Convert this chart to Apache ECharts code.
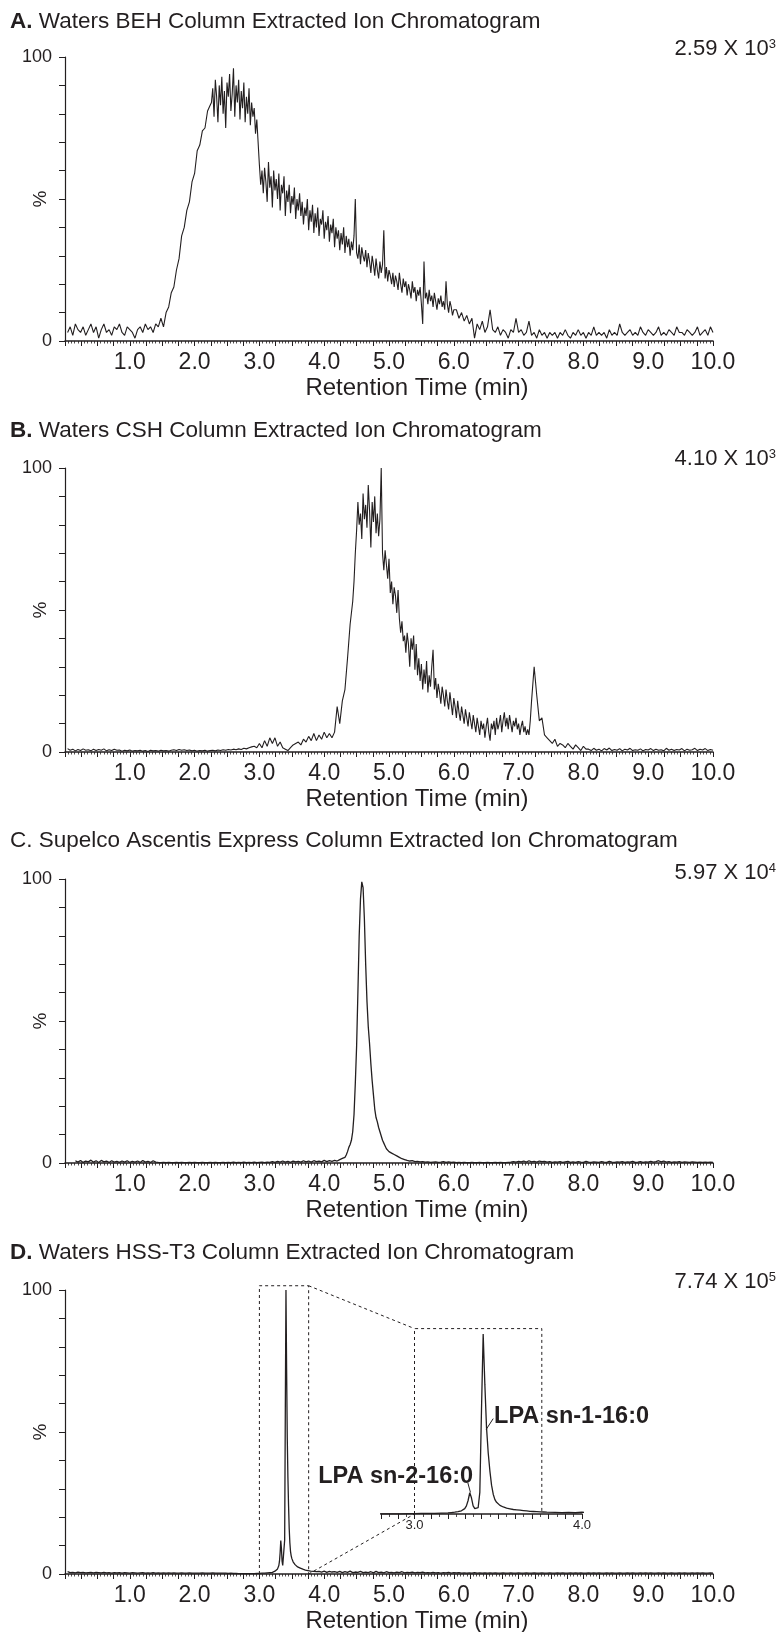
<!DOCTYPE html>
<html>
<head>
<meta charset="utf-8">
<script src="https://cdn.jsdelivr.net/npm/echarts@6/dist/echarts.min.js"></script>
<style>
  html, body { margin: 0; padding: 0; background: #fff; }
  #chart { width: 777px; height: 1632px; }
</style>
</head>
<body>
<div id="chart"></div>
<script>
// ---------------- DATA ----------------
const panelTitles = [
  ['A.', ' Waters BEH Column Extracted Ion Chromatogram', true],
  ['B.', ' Waters CSH Column Extracted Ion Chromatogram', true],
  ['C.', ' Supelco Ascentis Express Column Extracted Ion Chromatogram', false],
  ['D.', ' Waters HSS-T3 Column Extracted Ion Chromatogram', true]
];
const scaleMantissa = ['2.59', '4.10', '5.97', '7.74'];
const scaleExponent = ['3', '3', '4', '5'];
const xTickLabels = ['1.0', '2.0', '3.0', '4.0', '5.0', '6.0', '7.0', '8.0', '9.0', '10.0'];
const yTickLabels = { 0: '0', 100: '100' };
const insetTickLabels = { 3: '3.0', 4: '4.0' };
const xAxisName = 'Retention Time (min)';
const yAxisName = '%';
const peakLabels = ['LPA sn-1-16:0', 'LPA sn-2-16:0'];

// A: Waters BEH (three sampling segments)
const behStart = [0.04, 2.26, 6.04];
const behStep = [0.04, 0.02, 0.04];
const behRise = [
  3,5,2,6,4,3,5,2,4,6, 3,5,1,4,6,3,4,2,5,4, 6,3,2,5,4,3,1,4,5,3, 6,4,5,3,6,
  5,8,5,10,12,17,19,25,29,37, 40,46,49,56,59,67,69,74,75,81, 83
];
const behMain = [
  84,89,79,92,86,77,90,83,93,80,
  88,75,91,86,94,81,87,96,79,90,
  84,92,78,88,82,91,77,86,80,89,
  76,84,79,82,73,78,70,62,55,60,
  52,61,56,49,63,54,58,47,60,53,
  57,50,59,46,55,52,58,44,53,49,
  55,45,51,48,54,43,50,46,52,44,
  49,41,47,44,50,39,46,42,48,38,
  45,40,47,37,43,41,46,36,42,39,
  44,35,41,38,43,33,40,36,39,32,
  38,34,40,31,37,33,36,30,35,32,
  37,50,31,29,34,27,33,30,28,32,
  26,31,28,24,30,27,23,29,25,22,
  28,24,27,39,22,26,21,25,23,20,
  24,19,23,21,18,24,20,17,22,19,
  21,16,20,18,15,21,17,19,14,18,
  16,19,13,6,28,15,17,13,18,14,
  16,12,17,14,11,15,13,16,12,14,
  11,21,13,10,14,12,9,11
];
const behTail = [
  11,8,10,7,9,6,8,1,6,4, 7,3,5,
  11,4,3,5,2,4,3,1,4,3, 8,3,
  4,2,3,7,2,3,1,4,2,3, 1,3,
  2,3,1,3,2,4,2,1,3,2, 4,2,3,1,3,2,5,2,3,2, 3,1,4,2,3,2,6,3,2,3,
  4,2,3,2,5,3,2,4,3,2, 3,5,2,3,2,4,3,2,5,3, 3,2,4,3,2,3,5,2,3,4, 2,5,3
];

// B: Waters CSH (three sampling segments)
const cshStart = [0.04, 4.46, 7.24];
const cshStep = [0.04, 0.02, 0.04];
const cshRise = [
  1.2,0.6,1,0.4,0.9,0.5,1.1,0.6,0.8,0.4, 1,0.5,0.9,0.6,1.1,0.4,0.8,0.5,1,0.6,
  0.7,0.3,0.6,0.4,0.7,0.3,0.5,0.4,0.6,0.3, 0.5,0.2,0.6,0.4,0.5,0.3,0.6,0.4,0.5,0.3,
  0.6,0.8,0.5,0.9,0.6,0.8,0.5,0.7,0.4,0.6, 0.3,0.5,0.4,0.6,0.3,0.5,0.6,0.4,0.7,0.5,
  0.8,0.6,0.9,0.7,1,0.8,1.1,0.9,1.3,1.1, 1.5,1.8,
  2,1.5,3,1.5,4,2,5,3,5,2, 3.5,1.5,1,0.5,1.5,
  2.5,3,3.5,2.5,4.5,3.5,5.5,4,6.5,4, 6,4.5,7,5,6.5,5,7,
  16,10,18,22,33,45,53
];
const cshMain = [
  60,70,78,88,80,84,75,91,82,87,
  79,94,85,72,88,81,90,77,84,76,
  82,100,70,64,71,66,61,68,56,60,
  52,58,55,49,57,47,42,46,39,41,
  35,42,38,30,40,36,41,29,38,27,
  33,25,31,22,29,24,32,21,27,23,
  30,36,22,26,19,24,21,17,23,20,
  16,22,18,15,21,17,13,19,16,12,
  18,14,11,16,13,10,15,12,9,14,
  11,8,13,10,7,12,9,6,11,8,
  10,5,9,12,7,4,10,8,11,6,
  12,8,10,13,7,11,14,9,12,8,
  13,10,7,11,9,12,8,10,6,9,
  11,7,9,6,8,6,11,18
];
const cshTail = [
  30,20,11,12,6,5,
  4,3,4.5,2,3,2.5,1.5,3,2,1, 2.5,1.5,0.5,2,1,
  1,0.5,1.3,0.6,1,0.4,1.2,0.7,1.4,0.5, 0.9,0.6,1.2,0.4,1,0.7,1.3,0.5,0.8,0.6,
  1.1,0.4,0.9,0.7,1.2,0.5,1,0.6,0.8,0.4, 1.3,0.6,1,0.5,0.9,0.7,1.2,0.4,1,0.6,
  0.8,1.3,0.5,1,0.7,1.2,0.5,0.9,0.6
];

// C: Supelco Ascentis Express (three sampling segments)
const ascentisStart = [0.16, 4.30, 5.04];
const ascentisStep = [0.04, 0.02, 0.04];
const ascentisBase1 = [
  0.8,0.3,0.9,0.2,0.7,0.4,1,0.3,0.8,0.2, 0.9,0.4,0.7,0.2,0.8,0.3,0.6,0.2,0.7,0.3,
  0.8,0.2,0.6,0.3,0.7,0.2,0.9,0.3,0.6,0.2, 0.8,0.3,0.2,0.1,0.2,0.1,0.2,0.1,0.1,0.2,
  0.1,0.2,0.1,0.1,0.2,0.1,0.2,0.1,0.1,0.2, 0.1,0.1,0.2,0.1,0.2,0.1,0.1,0.2,0.1,0.2,
  0.1,0.3,0.1,0.2,0.1,0.3,0.1,0.2,0.1,0.3, 0.1,0.2,0.3,0.1,0.3,0.2,0.5,0.2,0.6,0.3,
  0.7,0.3,0.6,0.2,0.7,0.4,0.6,0.3,0.8,0.4, 0.7,0.3,0.8,0.5,0.7,0.4,0.9,0.5,0.8,0.6,
  0.9,0.7,1.2,1.6
];
const ascentisPeak = [
  1.5,2,2.8,4,5.5,6.5, 8,11,17,28,41, 60,80,93,99,97, 86,70,57,48,42,
  35,29,24,19,16, 14.5,12.5,11,9.5,8, 7,6,5,4.5,4
];
const ascentisBase2 = [
  3.5,3,2.5,2,1.5,1.2,0.9,0.7,0.8,0.5, 0.6,0.4,0.5,0.3,0.4,0.2,0.3,0.4,0.2,0.3,
  0.5,0.2,0.4,0.2,0.3,0.1,0.2,0.1,0.2,0.1, 0.1,0.2,0.1,0.1,0.2,0.1,0.1,0.2,0.1,0.1,
  0.2,0.1,0.2,0.1,0.1,0.2,0.3,0.5,0.3,0.6, 0.4,0.7,0.3,0.8,0.4,0.6,0.3,0.7,0.5,0.6,
  0.3,0.5,0.2,0.4,0.3,0.5,0.2,0.4,0.6,0.2, 0.4,0.2,0.5,0.3,0.2,0.6,0.3,0.2,0.4,0.3,
  0.2,0.5,0.3,0.2,0.6,0.3,0.2,0.4,0.3,0.5, 0.2,0.4,0.3,0.6,0.2,0.3,0.5,0.2,0.4,0.3,
  0.6,0.3,0.5,0.8,0.4,0.7,0.3,0.5,0.2,0.4, 0.3,0.5,0.2,0.4,0.3,0.2,0.4,0.3,0.2,0.3,
  0.2,0.3,0.2,0.3,0.2
];

// D: Waters HSS-T3 (three sampling segments)
const hssStart = [0.04, 3.21, 3.84];
const hssStep = [0.04, 0.01, 0.04];
const hssBase1 = [
  0.8,0.5,0.6,0.4,0.7,0.5,0.6,0.4,0.5,0.6, 0.4,0.6,0.5,0.4,0.6,0.4,0.5,0.3,0.5,0.4,
  0.5,0.3,0.5,0.4,0.3,0.5,0.4,0.3,0.4,0.5, 0.3,0.4,0.3,0.5,0.3,0.4,0.3,0.4,0.3,0.4,
  0.3,0.4,0.3,0.3,0.4,0.3,0.3,0.4,0.3,0.3, 0.3,0.3,0.4,0.3,0.3,0.3,0.4,0.3,0.3,0.3,
  0.3,0.3,0.2,0.3,0.2,0.2,0.1,0.1,0.1,0.1, 0.1,0.1,0.1,0.2,0.2,0.3,0.3,0.4,0.5,0.6
];
const hssPeak = [
  0.7,0.8,0.9,1.0,1.1,1.3,1.5,1.8,2.3,3, 4.5,7.5,11.8,9,4.5,3,2.6,3.5,12,58,
  100,72,48,34,24,16,11,8,6.5,5.5, 4.8,4.3,3.9,3.6,3.3,3.1,2.9,2.7,2.5,2.4,
  2.3,2.2,2.1,2.0,1.9,1.8,1.7,1.6,1.5,1.45, 1.4,1.35,1.3,1.25,1.2,1.15,1.1,1.05,1.0,1.0
];
const hssBase2 = [
  0.9,0.8,0.9,0.7,1.0,0.6,0.9,0.7,0.8,0.6, 0.9,0.5,0.8,0.6,1.0,0.5,0.7,0.6,0.9,0.5,
  0.7,0.5,0.8,0.4,0.9,0.5,0.7,0.4,0.8,0.5, 0.6,0.4,0.7,0.5,0.8,0.4,0.6,0.5,0.7,0.4,
  0.6,0.5,0.7,0.4,0.5,0.4,0.6,0.4,0.5,0.3, 0.5,0.4,0.6,0.3,0.5,0.4,0.5,0.3,0.4,0.3,
  0.4,0.3,0.5,0.3,0.4,0.3,0.4,0.3,0.4,0.3, 0.4,0.3,0.3,0.4,0.3,0.3,0.4,0.3,0.3,0.4,
  0.3,0.3,0.4,0.3,0.3,0.4,0.3,0.3,0.4,0.3, 0.3,0.4,0.3,0.3,0.4,0.3,0.4,0.3,0.3,0.4,
  0.3,0.4,0.3,0.4,0.3,0.3,0.4,0.3,0.4,0.3, 0.4,0.3,0.3,0.4,0.3,0.4,0.3,0.3,0.4,0.3,
  0.3,0.4,0.3,0.4,0.3,0.3,0.4,0.3,0.4,0.3, 0.4,0.3,0.3,0.4,0.3,0.4,0.3,0.3,0.4,0.3,
  0.3,0.4,0.3,0.4,0.3,0.3,0.4,0.3,0.4,0.3, 0.4,0.3,0.3,0.4,0.3
];

// zoom window of panel D (min) and inset axis range
const zoomWindow = [3.0, 3.76];
const zoomBoxTop = [101.5, 103];      // % in main plot / inset
const insetRange = [2.8, 4.0];
// label anchors in inset data units: [x, y]
const labelSn1 = { text: [3.475, 54], lineFrom: [3.428, 47], lineTo: [3.47, 53] };
const labelSn2 = { text: [3.35, 21], lineFrom: [3.318, 17.5], lineTo: [3.334, 12] };

// ---------------- BUILD ----------------
function seg(start, step, values) {
  return values.map((v, i) => [Math.round((start + i * step) * 1000) / 1000, v]);
}
function segs(starts, steps, parts) {
  return parts.reduce((acc, p, k) => acc.concat(seg(starts[k], steps[k], p)), []);
}
const dataA = segs(behStart, behStep, [behRise, behMain, behTail]);
const dataB = segs(cshStart, cshStep, [cshRise, cshMain, cshTail]);
const dataC = segs(ascentisStart, ascentisStep, [ascentisBase1, ascentisPeak, ascentisBase2]);
const dataD = segs(hssStart, hssStep, [hssBase1, hssPeak, hssBase2]);

const TEXT = '#231f20';
const FONT = "'Liberation Sans', Arial, Helvetica, sans-serif";
const tops = [57, 468, 879, 1290];
const titleTops = [10, 419, 829, 1241];
const scaleTops = [38, 448, 862, 1271];

const chart = echarts.init(document.getElementById('chart'), null, { renderer: 'canvas' });

const grids = [], xAxes = [], yAxes = [], series = [], titles = [];
tops.forEach((t, i) => {
  grids.push({ left: 65, right: 64, top: t, height: 284, containLabel: false, outerBoundsMode: 'none' });
  xAxes.push({
    gridIndex: i, type: 'value', min: 0, max: 10, interval: 0.25,
    axisLine: { show: true, onZero: false, lineStyle: { color: TEXT, width: 1.5 } },
    axisTick: { show: true, length: 5, lineStyle: { color: TEXT, width: 1 } },
    minorTick: { show: true, splitNumber: 5, length: 2.5, lineStyle: { color: TEXT, width: 0.8 } },
    splitLine: { show: false },
    axisLabel: {
      color: TEXT, fontFamily: FONT, fontSize: 23, margin: 10,
      formatter: v => { const k = Math.round(v); return (Math.abs(v - k) < 1e-6 && k >= 1) ? xTickLabels[k - 1] : ''; }
    },
    name: xAxisName, nameLocation: 'middle', nameGap: 35, nameMoveOverlap: false,
    nameTextStyle: { color: TEXT, fontFamily: FONT, fontSize: 24, padding: [0, 0, 0, 56] }
  });
  yAxes.push({
    gridIndex: i, type: 'value', min: 0, max: 100, interval: 10,
    axisLine: { show: true, lineStyle: { color: TEXT, width: 1.2 } },
    axisTick: { show: true, length: 6, lineStyle: { color: TEXT, width: 1 } },
    splitLine: { show: false },
    axisLabel: { color: TEXT, fontFamily: FONT, fontSize: 18, margin: 13,
      formatter: v => (yTickLabels[v] !== undefined ? yTickLabels[v] : '') },
    name: yAxisName, nameLocation: 'middle', nameRotate: 90, nameGap: 15, nameMoveOverlap: false,
    nameTextStyle: { color: TEXT, fontFamily: FONT, fontSize: 19 }
  });
  const tt = panelTitles[i];
  titles.push({
    text: '{p|' + tt[0] + '}' + tt[1], left: 10, top: titleTops[i], padding: 0,
    textStyle: { color: TEXT, fontFamily: FONT, fontSize: 22.5, fontWeight: 'normal',
      rich: { p: { color: TEXT, fontFamily: FONT, fontSize: 22.5, fontWeight: tt[2] ? 'bold' : 'normal' } } }
  });
  titles.push({
    text: scaleMantissa[i] + ' X 10{s|' + scaleExponent[i] + '}', right: 1, top: scaleTops[i], padding: 0,
    textStyle: { color: TEXT, fontFamily: FONT, fontSize: 22, fontWeight: 'normal',
      rich: { s: { color: TEXT, fontFamily: FONT, fontSize: 13, verticalAlign: 'top' } } }
  });
});
// inset
grids.push({ left: 381, right: 195, top: 1334, height: 180, containLabel: false, outerBoundsMode: 'none' });
xAxes.push({
  gridIndex: 4, type: 'value', min: insetRange[0], max: insetRange[1], interval: 0.1,
  axisLine: { show: true, onZero: false, lineStyle: { color: TEXT, width: 1.5 } },
  axisTick: { show: true, length: 5, lineStyle: { color: TEXT, width: 1 } },
  minorTick: { show: true, splitNumber: 2, length: 3, lineStyle: { color: TEXT, width: 0.8 } },
  splitLine: { show: false },
  axisLabel: { color: TEXT, fontFamily: FONT, fontSize: 13, margin: 5,
    formatter: v => { const k = Math.round(v); return (Math.abs(v - k) < 1e-6 && insetTickLabels[k]) ? insetTickLabels[k] : ''; } }
});
yAxes.push({ gridIndex: 4, type: 'value', min: 0, max: 100, show: false });

const lineBase = { type: 'line', symbol: 'none', showSymbol: false, sampling: null, silent: true, animation: false };
[dataA, dataB, dataC, dataD].forEach((d, i) => {
  series.push(Object.assign({}, lineBase, {
    xAxisIndex: i, yAxisIndex: i, data: d,
    lineStyle: { color: TEXT, width: i < 2 ? 1.1 : 1.3 }
  }));
});
series.push(Object.assign({}, lineBase, {
  xAxisIndex: 4, yAxisIndex: 4, data: dataD, lineStyle: { color: TEXT, width: 1.3 }
}));
// dashed zoom boxes
series.push(Object.assign({}, lineBase, {
  xAxisIndex: 3, yAxisIndex: 3, clip: false,
  data: [[zoomWindow[0], 0], [zoomWindow[0], zoomBoxTop[0]], [zoomWindow[1], zoomBoxTop[0]], [zoomWindow[1], 0]],
  lineStyle: { color: TEXT, width: 1, type: [3, 3] }
}));
series.push(Object.assign({}, lineBase, {
  xAxisIndex: 4, yAxisIndex: 4, clip: false,
  data: [[zoomWindow[0], 0], [zoomWindow[0], zoomBoxTop[1]], [zoomWindow[1], zoomBoxTop[1]], [zoomWindow[1], 0]],
  lineStyle: { color: TEXT, width: 1, type: [3, 3] }
}));

chart.setOption({
  animation: false,
  backgroundColor: '#ffffff',
  title: titles,
  grid: grids,
  xAxis: xAxes,
  yAxis: yAxes,
  series: series
});

// annotations positioned through the library's coordinate conversion
const px = (g, pt) => chart.convertToPixel({ gridIndex: g }, pt);
const a1 = px(3, [zoomWindow[1], zoomBoxTop[0]]), b1 = px(4, [zoomWindow[0], zoomBoxTop[1]]);
const a2 = px(3, [zoomWindow[1], 0]), b2 = px(4, [zoomWindow[0], 0]);
const dash = { stroke: TEXT, lineWidth: 1, lineDash: [3, 3] };
const solid = { stroke: TEXT, lineWidth: 1 };
const s1f = px(4, labelSn1.lineFrom), s1t = px(4, labelSn1.lineTo), s1x = px(4, labelSn1.text);
const s2f = px(4, labelSn2.lineFrom), s2t = px(4, labelSn2.lineTo), s2x = px(4, labelSn2.text);
chart.setOption({
  graphic: [
    { type: 'line', silent: true, shape: { x1: a1[0], y1: a1[1], x2: b1[0], y2: b1[1] }, style: dash },
    { type: 'line', silent: true, shape: { x1: a2[0], y1: a2[1], x2: b2[0], y2: b2[1] }, style: dash },
    { type: 'line', silent: true, shape: { x1: s1f[0], y1: s1f[1], x2: s1t[0], y2: s1t[1] }, style: solid },
    { type: 'line', silent: true, shape: { x1: s2f[0], y1: s2f[1], x2: s2t[0], y2: s2t[1] }, style: solid },
    { type: 'text', silent: true, x: s1x[0], y: s1x[1],
      style: { text: peakLabels[0], fill: TEXT, fontFamily: FONT, fontSize: 23.5, fontWeight: 'bold', align: 'left', verticalAlign: 'middle' } },
    { type: 'text', silent: true, x: s2x[0], y: s2x[1],
      style: { text: peakLabels[1], fill: TEXT, fontFamily: FONT, fontSize: 23.5, fontWeight: 'bold', align: 'right', verticalAlign: 'middle' } }
  ]
});
</script>
</body>
</html>
